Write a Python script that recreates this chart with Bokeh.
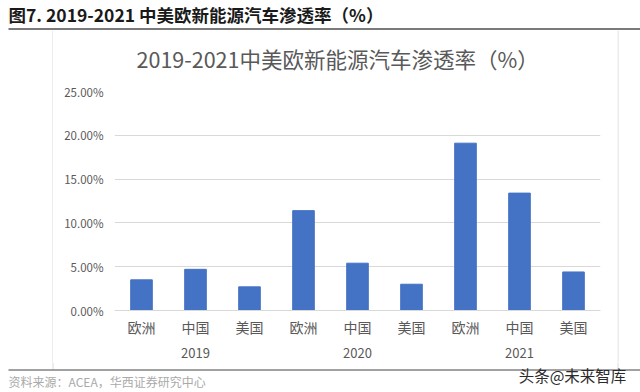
from bokeh.plotting import figure
from bokeh.layouts import column, row
from bokeh.models import (FactorRange, Range1d, NumeralTickFormatter, ColumnDataSource,
                          FixedTicker, CategoricalAxis)
from bokeh.core.properties import value
from bokeh.embed import file_html
from bokeh.resources import INLINE

years = ["2019", "2020", "2021"]
regions = ["欧洲", "中国", "美国"]
values = [0.035, 0.047, 0.027, 0.114, 0.054, 0.030, 0.191, 0.134, 0.044]
y_ticks = [0, 0.05, 0.10, 0.15, 0.20, 0.25]

header_text = "图7. 2019-2021 中美欧新能源汽车渗透率（%）"
chart_title = "2019-2021中美欧新能源汽车渗透率（%）"
source_text = "资料来源：ACEA，华西证券研究中心"
watermark = "头条@未来智库"

FONT = "Noto Sans CJK SC"
GRAY = "#595959"
BOX = "#d9d9d9"


def canvas(w, h):
    c = figure(width=w, height=h, output_backend="svg", toolbar_location=None,
               x_range=Range1d(0, w), y_range=Range1d(h, 0), min_border=0,
               x_axis_location=None, y_axis_location=None)
    c.grid.visible = False
    c.outline_line_color = None
    c.background_fill_color = "white"
    c.border_fill_color = "white"
    return c


def txt(c, x, y, s, size, color, align="left", base="middle", style="normal"):
    c.text(x=[x], y=[y], text=[s], text_font=value(FONT), text_font_size=value(size),
           text_color=color, text_align=align, text_baseline=base, text_font_style=style)


# ---- header (page y 0..30)
header = canvas(640, 30)
header.segment(x0=[8], y0=[28.5], x1=[640], y1=[28.5], line_color="#7a7a7a", line_width=2)
txt(header, 8, 26, header_text, "17.5px", "#1a1a1a", base="bottom", style="bold")

# ---- left / right box edges (page y 30..362)
MID_H = 332
left = canvas(53, MID_H)
left.segment(x0=[52.5], y0=[0], x1=[52.5], y1=[MID_H], line_color=BOX, line_width=1)
right = canvas(23, MID_H)
right.segment(x0=[0.5], y0=[0], x1=[0.5], y1=[MID_H], line_color=BOX, line_width=1)

# ---- chart title (page x 53..617, y 30..83)
title = canvas(564, 53)
txt(title, 259, 28, chart_title, "21.5px", GRAY, align="center")

# ---- chart (page x 53..617, y 83..362)
factors = [(y, r) for y in years for r in regions]
src = ColumnDataSource(dict(x=factors, v=values))
p = figure(width=564, height=MID_H - 53, output_backend="svg", toolbar_location=None,
           x_range=FactorRange(*factors, range_padding=0, group_padding=0, factor_padding=0),
           y_range=Range1d(0, 0.25),
           min_border_left=61, min_border_right=17, min_border_top=8, min_border_bottom=52)
p.outline_line_color = None
p.background_fill_color = "white"
p.border_fill_color = "white"
p.vbar(x="x", top="v", width=0.4, source=src, color="#4472C4")

p.yaxis.ticker = FixedTicker(ticks=y_ticks)
p.yaxis.formatter = NumeralTickFormatter(format="0.00%")
p.yaxis.axis_line_color = None
p.yaxis.major_tick_line_color = None
p.yaxis.minor_tick_line_color = None
p.yaxis.major_label_text_font = FONT
p.yaxis.major_label_text_font_size = "11.5px"
p.yaxis.major_label_text_color = GRAY
p.yaxis.major_label_standoff = 5

# first level: regions (group labels of this axis are hidden; years get their own axis)
p.xaxis.axis_line_color = BOX
p.xaxis.major_tick_line_color = None
p.xaxis.minor_tick_line_color = None
p.xaxis.major_label_text_font = FONT
p.xaxis.major_label_text_font_size = "14px"
p.xaxis.major_label_text_color = GRAY
p.xaxis.group_text_font_size = "1px"
p.xaxis.group_text_color = None
p.xaxis.separator_line_color = None
p.xaxis.major_label_standoff = 0

# second level: years
p.extra_x_ranges = {"years": FactorRange(*years, range_padding=0)}
year_axis = CategoricalAxis(x_range_name="years")
year_axis.axis_line_color = None
year_axis.major_tick_line_color = None
year_axis.minor_tick_line_color = None
year_axis.major_label_text_font = FONT
year_axis.major_label_text_font_size = "13px"
year_axis.major_label_text_color = GRAY
year_axis.major_label_standoff = 2
p.add_layout(year_axis, "below")

p.xgrid.grid_line_color = None
p.ygrid.grid_line_color = BOX

# ---- footer (page y 362..392)
footer = canvas(640, 30)
footer.segment(x0=[52.5, 617.5], y0=[0, 0], x1=[52.5, 617.5], y1=[7, 7], line_color=BOX, line_width=1)
footer.segment(x0=[8], y0=[7.5], x1=[640], y1=[7.5], line_color="#444444", line_width=1)
txt(footer, 8, 18.5, source_text, "12px", "#aaaaaa")
txt(footer, 572, 12, watermark, "15.5px", "#2b2b2b", align="center")

layout = column(header, row(left, column(title, p), right), footer)
open("out.html", "w").write(file_html(layout, INLINE))
